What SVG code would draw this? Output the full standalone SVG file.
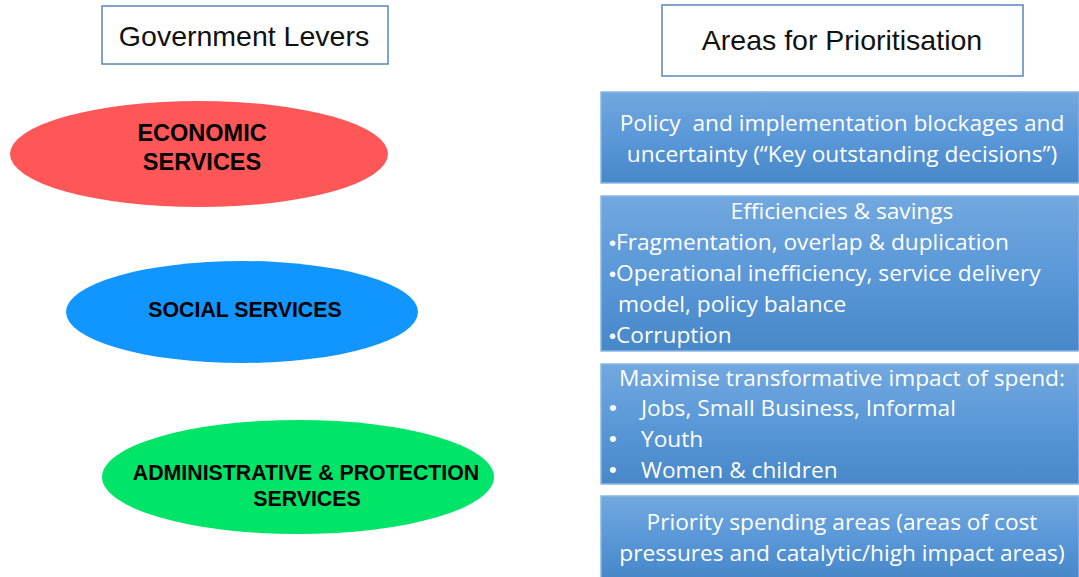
<svg xmlns="http://www.w3.org/2000/svg" width="1079" height="577" viewBox="0 0 1079 577">
<defs>
<linearGradient id="bg" x1="0" y1="0" x2="0" y2="1">
<stop offset="0" stop-color="#72a8de"/>
<stop offset="0.5" stop-color="#5a98d8"/>
<stop offset="1" stop-color="#4888c8"/>
</linearGradient>
<style>
.hdr{fill:#ffffff;stroke:#5b86b8;stroke-width:1.5}
.hdrt{font-family:"Liberation Sans",Arial,sans-serif;font-size:28.5px;fill:#111111;text-anchor:middle}
.ell{stroke:none}
.ellt{font-family:"Liberation Sans",Arial,sans-serif;font-size:21.3px;font-weight:bold;fill:#000000;text-anchor:middle}
.big{font-size:23.5px}
.box{fill:url(#bg);stroke:#8cb6e3;stroke-width:1.5}
.bt{font-family:"Open Sans",Lato,sans-serif;font-size:22.7px;fill:#ffffff}
.bul{font-family:"Liberation Sans",Arial,sans-serif;font-size:22px;fill:#ffffff}
.bf{font-family:"Liberation Sans",Arial,sans-serif;font-size:20px}
.c{text-anchor:middle}
</style>
</defs>
<g id="government-levers">
<rect class="hdr" x="102" y="6" width="286" height="58"/>
<text class="hdrt" x="244" y="46">Government Levers</text>
</g>
<g id="areas-for-prioritisation">
<rect class="hdr" x="662" y="5" width="361" height="71"/>
<text class="hdrt" x="842" y="50">Areas for Prioritisation</text>
</g>
<g id="economic">
<ellipse class="ell" cx="199" cy="154" rx="189" ry="53" fill="#ff5757"/>
<text class="ellt big" x="202" y="141">ECONOMIC</text>
<text class="ellt big" x="202" y="170">SERVICES</text>
</g>
<g id="social">
<ellipse class="ell" cx="242" cy="312" rx="176" ry="51" fill="#1196ff"/>
<text class="ellt" x="245" y="317">SOCIAL SERVICES</text>
</g>
<g id="administrative">
<ellipse class="ell" cx="298" cy="477" rx="196" ry="57" fill="#00e468"/>
<text class="ellt" x="306" y="480">ADMINISTRATIVE &amp; PROTECTION</text>
<text class="ellt" x="307" y="506">SERVICES</text>
</g>
<g id="box-policy">
<rect class="box" x="601" y="92" width="478" height="91"/>
<text class="bt c" x="842" y="131" xml:space="preserve">Policy  and implementation blockages and</text>
<text class="bt c" x="842" y="162">uncertainty (“Key outstanding decisions”)</text>
</g>
<g id="box-efficiencies">
<rect class="box" x="601" y="196" width="478" height="155"/>
<text class="bt c" x="842" y="219">Efficiencies &amp; savings</text>
<text class="bt" x="609" y="250"><tspan class="bf">•</tspan>Fragmentation, overlap &amp; duplication</text>
<text class="bt" x="609" y="281"><tspan class="bf">•</tspan>Operational inefficiency, service delivery</text>
<text class="bt" x="618" y="312">model, policy balance</text>
<text class="bt" x="609" y="343"><tspan class="bf">•</tspan>Corruption</text>
</g>
<g id="box-transformative">
<rect class="box" x="601" y="364" width="478" height="120"/>
<text class="bt c" x="842" y="386">Maximise transformative impact of spend:</text>
<text class="bul" x="609" y="415">•</text>
<text class="bt" x="641" y="416">Jobs, Small Business, Informal</text>
<text class="bul" x="609" y="446">•</text>
<text class="bt" x="641" y="447">Youth</text>
<text class="bul" x="609" y="477">•</text>
<text class="bt" x="641" y="478">Women &amp; children</text>
</g>
<g id="box-priority">
<rect class="box" x="601" y="496" width="478" height="82"/>
<text class="bt c" x="842" y="530">Priority spending areas (areas of cost</text>
<text class="bt c" x="842" y="561">pressures and catalytic/high impact areas)</text>
</g>
<g id="connectors"/>
</svg>
